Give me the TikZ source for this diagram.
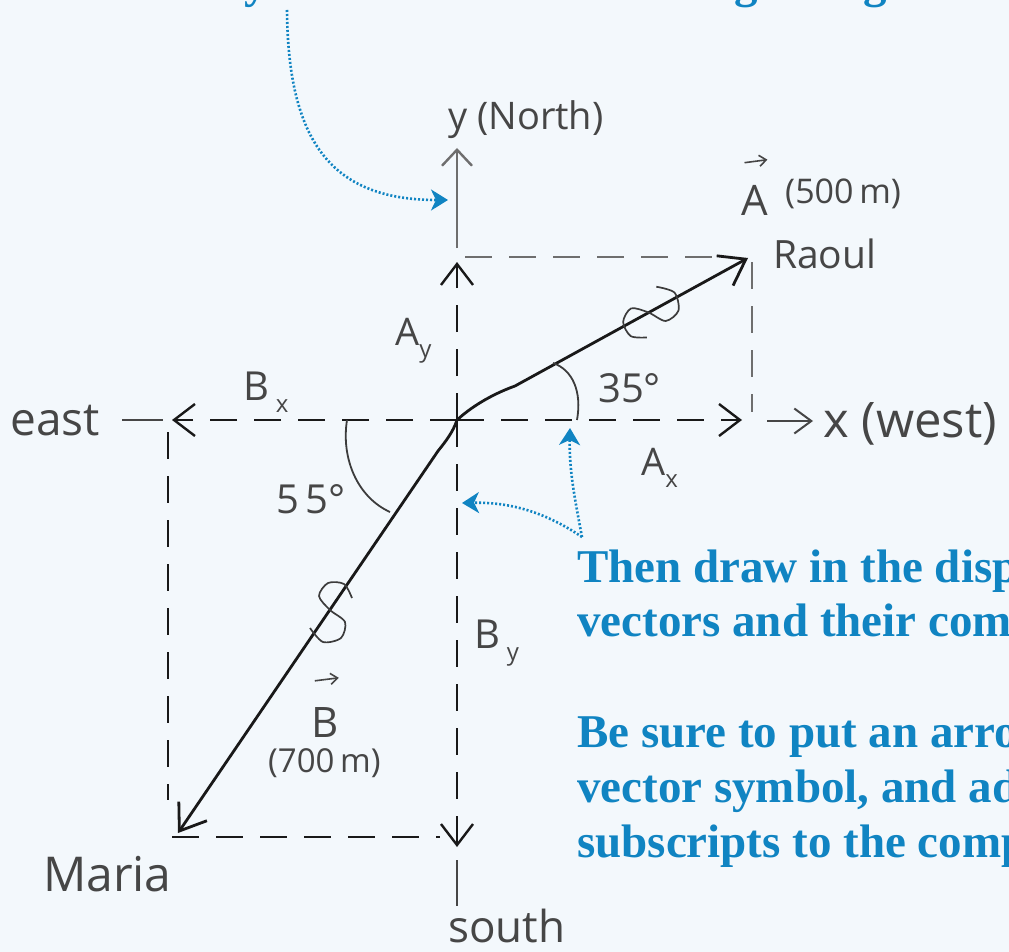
\documentclass[tikz,border=0pt]{standalone}
\usepackage{fontspec}
\setmainfont{Liberation Serif}
\newfontfamily\hand{Open Sans}
\usetikzlibrary{arrows.meta}
\definecolor{bg}{RGB}{243,248,252}
\definecolor{hintblue}{RGB}{16,132,194}
\definecolor{ink}{RGB}{25,25,25}
\definecolor{pen}{RGB}{70,70,70}
\definecolor{faint}{RGB}{110,110,110}
\newcommand\lsub[1]{\raisebox{-0.32em}{\fontsize{24}{24}\selectfont #1}}
\begin{document}
\begin{tikzpicture}[x=1pt,y=-1pt,
  lbl/.style={font=\hand\fontsize{#1}{#1}\selectfont, text=pen, inner sep=0pt, anchor=base west},
  lbl/.default=38,
  bluetxt/.style={font=\bfseries\fontsize{47}{56}\selectfont, text=hintblue, inner sep=0pt, anchor=base west},
  comp/.style={draw=ink, line width=2.4pt, dash pattern=on 27pt off 17pt},
  axisline/.style={draw=faint, line width=2.4pt},
  vecline/.style={draw=ink, line width=2.8pt, -{Straight Barb[length=24pt,width=34pt]}},
  arcline/.style={draw=ink!85, line width=1.8pt},
  hintline/.style={draw=hintblue, line width=2.6pt, dash pattern=on 2pt off 2pt,
     -{Stealth[length=17pt,width=21pt,inset=5pt]}},
  tipV/.style={-{Straight Barb[length=21pt,width=32pt]}},
  smallarrow/.style={draw=pen, line width=1.6pt, -{Straight Barb[length=7pt,width=11pt]}}
]
\useasboundingbox[fill=bg] (0,0) rectangle (1009,952);
\clip (0,0) rectangle (1009,952);

% key points
\coordinate (O) at (457,420);
\coordinate (R) at (748,258);
\coordinate (M) at (178,833);
\coordinate (Ay) at (457,262);
\coordinate (Ax) at (742,420);
\coordinate (Bx) at (172,420);
\coordinate (By) at (457,847);
\coordinate (Ybot) at (457,248);
\coordinate (Ytop) at (457,148);
\coordinate (Xa) at (767,421);
\coordinate (Xb) at (813,421);
\coordinate (Ea) at (122,420);
\coordinate (Eb) at (163,420);
\coordinate (Sa) at (457,860);
\coordinate (Sb) at (457,906);
\coordinate (TL) at (465,257);
\coordinate (TR) at (728,257);
\coordinate (RT) at (752,262);
\coordinate (RB) at (752,412);
\coordinate (LT) at (168,432);
\coordinate (LB) at (168,800);
\coordinate (BL) at (172,837);
\coordinate (BR) at (440,837);

% axes
\draw[axisline, -{Straight Barb[length=16pt,width=30pt]}] (Ybot) -- (Ytop);
\draw[axisline, draw=pen, line width=2pt, -{Straight Barb[length=17pt,width=25pt]}] (Xa) -- (Xb);
\draw[axisline, draw=pen, line width=2pt] (Ea) -- (Eb);
\draw[axisline, draw=pen, line width=2pt] (Sa) -- (Sb);

% components
\draw[comp, tipV] (O) -- (Ay);
\draw[comp, tipV] (O) -- (Ax);
\draw[comp, tipV] (O) -- (Bx);
\draw[comp, tipV] (O) -- (By);
\draw[comp, draw=faint] (TL) -- (TR);
\draw[comp, draw=faint] (RT) -- (RB);
\draw[comp] (LT) -- (LB);
\draw[comp] (BL) -- (BR);

% vectors
\draw[vecline] (O) .. controls (470,408) and (490,395) .. (515,386) -- (R);
\draw[vecline] (O) .. controls (453,432) and (446,441) .. (438,451) -- (M);

% angle arcs
\draw[arcline] (577,420) .. controls (582,392) and (573,370) .. (553,363);
\draw[arcline] (347,420) .. controls (341,458) and (357,497) .. (390,512);

% hand marks on the vectors
\draw[arcline, line width=1.7pt] plot[smooth] coordinates {(352,598) (344,584) (328,583) (319,596) (330,610) (345,622) (341,638) (323,642) (310,628)};
\begin{scope}[shift={(652,313)}, rotate=-65]
\draw[arcline, line width=1.7pt] plot[smooth] coordinates {(20,15) (12,29) (-4,30) (-13,17) (-2,3) (13,-9) (9,-25) (-9,-29) (-22,-15)};
\end{scope}

% handwritten labels
\node[lbl=38] (ylab) at (448,130) {y (North)};
\node[lbl=42] (Avec) at (741,215) {A};
\draw[smallarrow] ([xshift=-10pt,yshift=22pt]Avec.north) -- ([xshift=13pt,yshift=25pt]Avec.north);
\node[lbl=34] (Amag) at (785,204) {(500\,m)};
\node[lbl=39] (raoul) at (773,268) {Raoul};
\node[lbl=38] (Aylab) at (395,345) {A\lsub{y}};
\node[lbl=40] (Bxlab) at (243,400) {B\,\lsub{x}};
\node[lbl=40] (a35) at (598,402) {35°};
\node[lbl=38] (Axlab) at (641,475) {A\lsub{x}};
\node[lbl=49] (xwest) at (823,437) {x (west)};
\node[lbl=46] (east) at (10,435) {east};
\node[lbl=40] (a55) at (276,513) {5\,5°};
\node[lbl=40] (Bylab) at (474,648) {B\,\lsub{y}};
\node[lbl=42] (Bvec) at (311,737) {B};
\draw[smallarrow] ([xshift=-10pt,yshift=26pt]Bvec.north) -- ([xshift=14pt,yshift=29pt]Bvec.north);
\node[lbl=33] (Bmag) at (268,772) {(700\,m)};
\node[lbl=48] (maria) at (43,891) {Maria};
\node[lbl=44] (south) at (448,942) {south};

% blue instruction text
\node[bluetxt] (d1) at (244,-2) {y};
\node[bluetxt] (d2) at (734,-2) {g};
\node[bluetxt] (d3) at (863,-2) {g};
\node[bluetxt] (t1) at (577,582) {Then draw in the displacement};
\node[bluetxt] (t2) at (577,636) {vectors and their components.};
\node[bluetxt] (t3) at (577,747) {Be sure to put an arrow over the};
\node[bluetxt] (t4) at (577,802) {vector symbol, and add x and y};
\node[bluetxt] (t5) at (577,857) {subscripts to the components.};

% blue pointer arrows
\coordinate (h1s) at (287,10);
\coordinate (h1e) at (448,200);
\coordinate (h2s) at (582,537);
\coordinate (h2e) at (570,428);
\coordinate (h3e) at (462,503);
\draw[hintline] (h1s) .. controls (288,140) and (330,200) .. (h1e);
\draw[hintline] (h2s) .. controls (575,500) and (569,470) .. (h2e);
\draw[hintline] (h2s) .. controls (545,512) and (510,502) .. (h3e);
\end{tikzpicture}
\end{document}
